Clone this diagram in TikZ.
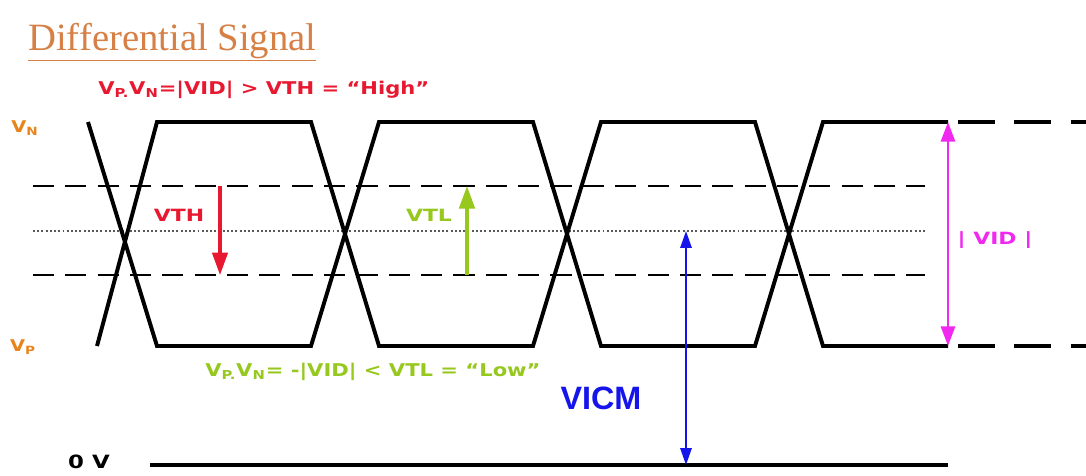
\documentclass[tikz,border=0pt]{standalone}
\usepackage{fontspec}
\setmainfont{Liberation Serif}
\newfontfamily\lab{DejaVu Sans}
\newfontfamily\arl{Liberation Sans}
\usetikzlibrary{arrows.meta}
\definecolor{ttlorange}{RGB}{214,128,70}
\definecolor{vorange}{RGB}{232,132,30}
\definecolor{hired}{RGB}{232,24,48}
\definecolor{logreen}{RGB}{150,200,30}
\definecolor{icmblue}{RGB}{20,20,235}
\definecolor{vidmag}{RGB}{240,40,240}
\tikzset{
  wave/.style={line width=2.8pt, line join=miter},
  thr/.style={line width=2pt, dash pattern=on 15pt off 8pt},
  mid/.style={line width=1.4pt, gray!70!black, dash pattern=on 1.4pt off 1.6pt},
  lbl/.style={font=\lab\bfseries, inner sep=0pt},
  arr/.style={line width=2.2pt, -{Triangle[length=16pt,width=11pt]}},
}
\begin{document}
\begin{tikzpicture}[x=0.025cm,y=-0.025cm]
\path[fill=white] (0,0) rectangle (1086,475);
\useasboundingbox (0,0) rectangle (1086,475);

% title
\node[anchor=west, inner sep=0pt, text=ttlorange, font=\fontsize{27.5}{31}\selectfont] (title) at (28,42) {\underline{Differential Signal}};

% threshold lines
\draw[thr] (33,186) -- (925,186);
\draw[thr] (33,275) -- (925,275);
\draw[mid] (33,231) -- (925,231);

% waveforms
\draw[wave] (88,122) -- (157,346) -- (311,346) -- (379,122) -- (533,122) -- (601,346) -- (755,346) -- (823,122) -- (948,122);
\draw[wave] (97,346) -- (157,122) -- (311,122) -- (379,346) -- (533,346) -- (601,122) -- (755,122) -- (823,346) -- (948,346);
\draw[line width=2.8pt, dash pattern=on 26pt off 14pt] (958,122) -- (1086,122);
\draw[line width=2.8pt, dash pattern=on 26pt off 14pt] (958,346) -- (1086,346);

% 0 V line
\draw[line width=2.2pt] (150,465) -- (948,465);

% coordinates for arrows
\coordinate (thA) at (220,186);
\coordinate (thB) at (220,275);
\coordinate (tlA) at (467,275);
\coordinate (tlB) at (467,186);
\coordinate (cmA) at (686,231);
\coordinate (cmB) at (686,465);
\coordinate (vdA) at (948,122);
\coordinate (vdB) at (948,346);

\draw[arr, hired] (thA) -- (thB);
\draw[arr, logreen] (tlA) -- (tlB);
\draw[line width=1.4pt, icmblue, {Triangle[length=12pt,width=8pt]}-{Triangle[length=12pt,width=8pt]}] (cmA) -- (cmB);
\draw[line width=2pt, vidmag, {Triangle[length=14pt,width=10pt]}-{Triangle[length=14pt,width=10pt]}] (vdA) -- (vdB);

% labels
\node[lbl, anchor=west, xscale=1.2, text=hired, font=\lab\bfseries\fontsize{12.5}{14}\selectfont] (hi) at (98,90) {V\textsubscript{P.}V\textsubscript{N}=|VID| > VTH = “High”};
\node[lbl, anchor=west, xscale=1.2, text=logreen, font=\lab\bfseries\fontsize{12.5}{14}\selectfont] (lo) at (205,372) {V\textsubscript{P.}V\textsubscript{N}= -|VID| < VTL = “Low”};
\node[lbl, xscale=1.2, text=vorange, font=\lab\bfseries\fontsize{11.5}{13}\selectfont] (vn) at (25,128) {V\textsubscript{N}};
\node[lbl, xscale=1.2, text=vorange, font=\lab\bfseries\fontsize{11.5}{13}\selectfont] (vp) at (23,347) {V\textsubscript{P}};
\node[lbl, xscale=1.3, text=hired, font=\lab\bfseries\fontsize{12}{14}\selectfont] (vth) at (179,215) {VTH};
\node[lbl, xscale=1.3, text=logreen, font=\lab\bfseries\fontsize{12}{14}\selectfont] (vtl) at (429,215) {VTL};
\node[lbl, xscale=1.3, text=vidmag, font=\lab\bfseries\fontsize{12}{14}\selectfont] (vid) at (995,240) {| VID |};
\node[inner sep=0pt, text=icmblue, font=\arl\bfseries\fontsize{23}{27}\selectfont] (vicm) at (601,398) {VICM};
\node[lbl, xscale=1.25, text=black, font=\lab\bfseries\fontsize{13}{15}\selectfont] (zero) at (89,462) {0 V};
\end{tikzpicture}
\end{document}
